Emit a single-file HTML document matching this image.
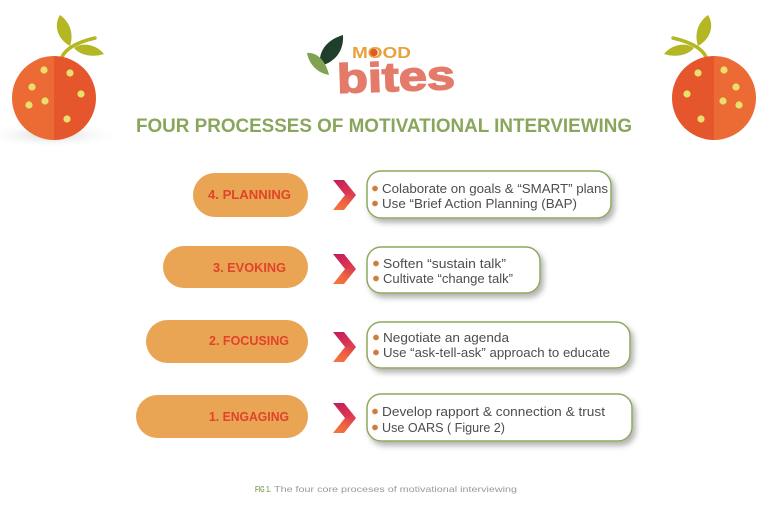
<!DOCTYPE html>
<html><head><meta charset="utf-8"><style>
html,body{margin:0;padding:0;background:#fff;}
svg{display:block;}
text{font-family:"Liberation Sans",sans-serif;}
</style></head><body>
<svg width="769" height="513" viewBox="0 0 769 513" xmlns="http://www.w3.org/2000/svg">
<defs>
<radialGradient id="sh" cx="0.5" cy="0.5" r="0.5">
<stop offset="0" stop-color="#cfcfcf" stop-opacity="0.9"/>
<stop offset="1" stop-color="#ffffff" stop-opacity="0"/>
</radialGradient>
<linearGradient id="chU" x1="0" y1="0" x2="1" y2="1">
<stop offset="0" stop-color="#bf1a5e"/>
<stop offset="1" stop-color="#e6414c"/>
</linearGradient>
<linearGradient id="chL" x1="1" y1="0" x2="0" y2="1">
<stop offset="0" stop-color="#d23a55"/>
<stop offset="0.5" stop-color="#f0633f"/>
<stop offset="1" stop-color="#f27a3e"/>
</linearGradient>
<filter id="ds" x="-10%" y="-30%" width="130%" height="170%">
<feDropShadow dx="3" dy="4" stdDeviation="3" flood-color="#000" flood-opacity="0.3"/>
</filter>
<g id="orange">
<path d="M62,57 C66,48 78,42 95,38" stroke="#b4b624" stroke-width="3.5" fill="none" stroke-linecap="round"/>
<path d="M70,46 C56,38 54,24 60,15 C70,22 74,34 70,46 Z" fill="#b4b624"/>
<path d="M74,48 C82,42 96,44 104,54 C92,58 80,55 74,48 Z" fill="#b4b624"/>
<path d="M54,56 A42,42 0 0 0 54,140 Z" fill="#ec6a34"/>
<path d="M54,56 A42,42 0 0 1 54,140 Z" fill="#e5562c"/>
<g fill="#e9df6c">
<circle cx="44" cy="70" r="3.6"/><circle cx="70" cy="73" r="3.6"/><circle cx="32" cy="87" r="3.6"/>
<circle cx="81" cy="94" r="3.6"/><circle cx="45" cy="101" r="3.6"/><circle cx="29" cy="105" r="3.6"/>
<circle cx="67" cy="119" r="3.6"/>
</g>
</g>
<g id="bul"><circle r="2.9" fill="#df7a3e"/><circle r="1.1" fill="#7c9a4c"/></g>
<g id="chev">
<polygon points="0,0 11,0 23,15 12,15" fill="url(#chU)"/>
<polygon points="12,15 23,15 11,30 0,30" fill="url(#chL)"/>
</g>
</defs>

<!-- left orange -->
<ellipse cx="52" cy="135" rx="68" ry="13" fill="url(#sh)"/>
<use href="#orange"/>
<!-- right orange (mirror) -->
<g transform="translate(768,0) scale(-1,1)"><use href="#orange"/></g>

<!-- logo -->
<path d="M320,66 C318,52 326,40 343,35 C344,50 336,62 320,66 Z" fill="#1f3e2b"/>
<path d="M307,53 C318,52 326,62 329,75 C317,73 309,64 307,53 Z" fill="#7fa352"/>
<text x="352" y="58" font-size="16" font-weight="bold" fill="#e9a23b" textLength="59" lengthAdjust="spacingAndGlyphs">MOOD</text>
<circle cx="374" cy="52.5" r="3.8" fill="#df5a28"/>
<text x="337" y="91" font-size="41" font-weight="bold" fill="#e37a6a" stroke="#e37a6a" stroke-width="1.5" textLength="118" lengthAdjust="spacingAndGlyphs" transform="rotate(-2 396 78)">bites</text>

<!-- title -->
<text x="136" y="132" font-size="19" font-weight="bold" fill="#8aa55c" textLength="496" lengthAdjust="spacingAndGlyphs">FOUR PROCESSES OF MOTIVATIONAL INTERVIEWING</text>

<!-- pills -->
<g fill="#e9a554">
<rect x="193" y="173" width="115" height="44" rx="22"/>
<rect x="163" y="246" width="145" height="42" rx="21"/>
<rect x="146" y="320" width="162" height="43" rx="21.5"/>
<rect x="136" y="395" width="172" height="43" rx="21.5"/>
</g>
<g font-size="12.5" font-weight="bold" fill="#e1432b">
<text x="208" y="199" textLength="83" lengthAdjust="spacingAndGlyphs">4. PLANNING</text>
<text x="213" y="272" textLength="73" lengthAdjust="spacingAndGlyphs">3. EVOKING</text>
<text x="209" y="345" textLength="80" lengthAdjust="spacingAndGlyphs">2. FOCUSING</text>
<text x="209" y="421" textLength="80" lengthAdjust="spacingAndGlyphs">1. ENGAGING</text>
</g>

<!-- chevrons -->
<use href="#chev" x="333" y="180"/>
<use href="#chev" x="333" y="254"/>
<use href="#chev" x="333" y="332"/>
<use href="#chev" x="333" y="403"/>

<!-- boxes -->
<g fill="#fff" stroke="#8fa85e" stroke-width="1.5" filter="url(#ds)">
<rect x="367" y="171" width="244" height="47" rx="14"/>
<rect x="367" y="247" width="173" height="46" rx="14"/>
<rect x="367" y="322" width="263" height="46" rx="14"/>
<rect x="367" y="394" width="265" height="47" rx="14"/>
</g>
<g font-size="13" fill="#4d4d4d">
<use href="#bul" x="375" y="188.5"/><text x="382" y="193" textLength="226" lengthAdjust="spacingAndGlyphs">Colaborate on goals &amp; “SMART” plans</text>
<use href="#bul" x="375" y="203.5"/><text x="382" y="208" textLength="195" lengthAdjust="spacingAndGlyphs">Use “Brief Action Planning (BAP)</text>

<use href="#bul" x="376" y="263.5"/><text x="383" y="268" textLength="123" lengthAdjust="spacingAndGlyphs">Soften  “sustain talk”</text>
<use href="#bul" x="376" y="278.5"/><text x="383" y="283" textLength="130" lengthAdjust="spacingAndGlyphs">Cultivate “change talk”</text>

<use href="#bul" x="376" y="337.5"/><text x="383" y="342" textLength="126" lengthAdjust="spacingAndGlyphs">Negotiate an agenda</text>
<use href="#bul" x="376" y="352.5"/><text x="383" y="357" textLength="227" lengthAdjust="spacingAndGlyphs">Use “ask-tell-ask” approach to educate</text>

<use href="#bul" x="375" y="411.5"/><text x="382" y="416" textLength="223" lengthAdjust="spacingAndGlyphs">Develop rapport &amp; connection &amp; trust</text>
<use href="#bul" x="375" y="427.5"/><text x="382" y="432" textLength="123" lengthAdjust="spacingAndGlyphs">Use OARS ( Figure 2)</text>
</g>

<!-- caption -->
<text x="255" y="492" font-size="8" font-weight="bold" fill="#8aa55c" textLength="16" lengthAdjust="spacingAndGlyphs">FIG 1.</text>
<text x="274" y="492" font-size="8.5" fill="#9a9a9a" textLength="243" lengthAdjust="spacingAndGlyphs">The four core proceses of motivational interviewing</text>
</svg>
</body></html>
